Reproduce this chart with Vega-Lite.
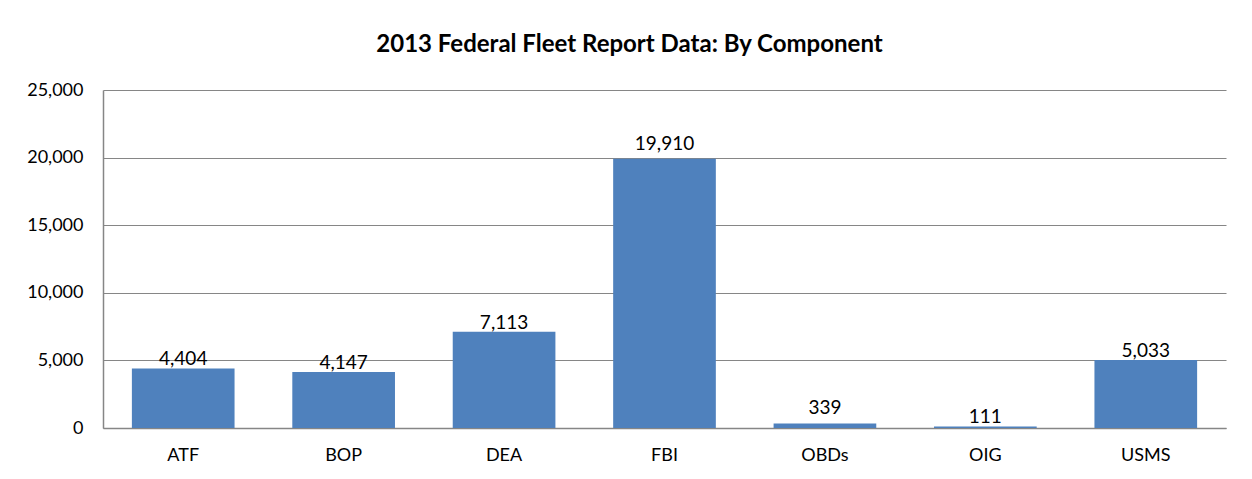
{
  "$schema": "https://vega.github.io/schema/vega-lite/v6.json",
  "autosize": "none",
  "width": 1123,
  "height": 338,
  "padding": {"left": 103, "top": 90, "right": 26, "bottom": 51},
  "background": "white",
  "title": {
    "text": "2013 Federal Fleet Report Data: By Component",
    "font": "Lato",
    "fontSize": 24,
    "fontWeight": "bold",
    "color": "#000000",
    "anchor": "middle",
    "frame": "group",
    "dx": -35,
    "baseline": "alphabetic",
    "offset": 5
  },
  "data": {
    "values": [
      {"component": "ATF", "vehicles": 4404},
      {"component": "BOP", "vehicles": 4147},
      {"component": "DEA", "vehicles": 7113},
      {"component": "FBI", "vehicles": 19910},
      {"component": "OBDs", "vehicles": 339},
      {"component": "OIG", "vehicles": 111},
      {"component": "USMS", "vehicles": 5033}
    ]
  },
  "encoding": {
    "x": {
      "field": "component",
      "type": "nominal",
      "sort": null,
      "scale": {"paddingInner": 0.36, "paddingOuter": 0.18},
      "axis": {
        "title": null,
        "labelAngle": 0,
        "ticks": false,
        "domainColor": "#868686",
        "domainWidth": 1.5,
        "labelFont": "Lato",
        "labelFontSize": 18,
        "labelColor": "#000000",
        "labelPadding": 18
      }
    },
    "y": {
      "field": "vehicles",
      "type": "quantitative",
      "scale": {"domain": [0, 25000], "nice": false},
      "axis": {
        "title": null,
        "values": [0, 5000, 10000, 15000, 20000, 25000],
        "format": ",.0f",
        "ticks": false,
        "domainColor": "#868686",
        "domainWidth": 1.5,
        "gridColor": "#868686",
        "gridWidth": 1.2,
        "labelFont": "Lato",
        "labelFontSize": 18,
        "labelColor": "#000000",
        "labelPadding": 20
      }
    }
  },
  "layer": [
    {"mark": {"type": "bar", "color": "#4F81BD"}},
    {
      "transform": [{"filter": "datum.component !== 'FBI' && datum.component !== 'OBDs'"}],
      "mark": {
        "type": "text",
        "baseline": "alphabetic",
        "dy": -3,
        "font": "Lato",
        "fontSize": 19,
        "color": "#000000"
      },
      "encoding": {
        "text": {"field": "vehicles", "type": "quantitative", "format": ",.0f"}
      }
    },
    {
      "transform": [{"filter": "datum.component === 'FBI' || datum.component === 'OBDs'"}],
      "mark": {
        "type": "text",
        "baseline": "alphabetic",
        "dy": -9,
        "font": "Lato",
        "fontSize": 19,
        "color": "#000000"
      },
      "encoding": {
        "text": {"field": "vehicles", "type": "quantitative", "format": ",.0f"}
      }
    }
  ],
  "config": {
    "view": {"stroke": null}
  }
}
